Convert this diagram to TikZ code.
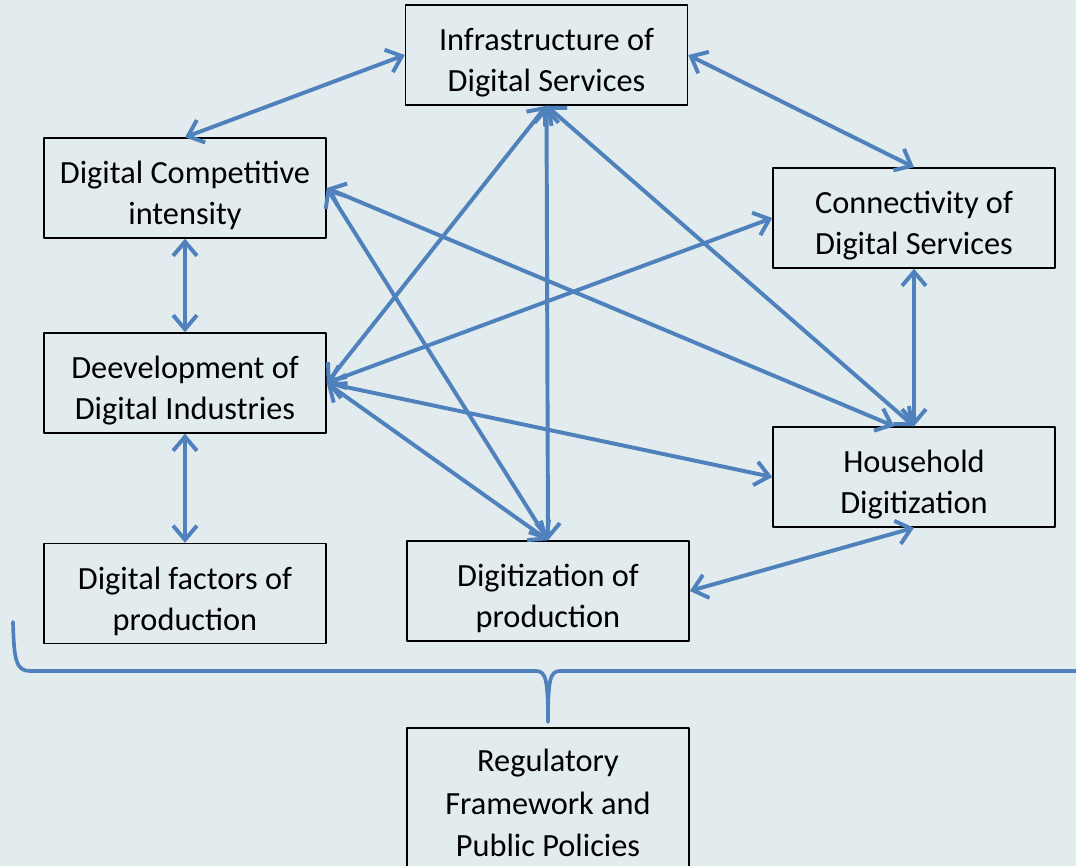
\documentclass[tikz,border=0pt]{standalone}
\usepackage{fontspec}
\setmainfont{Carlito}
\usetikzlibrary{arrows.meta}
\definecolor{bgblue}{RGB}{226,235,238}
\definecolor{linkblue}{RGB}{79,129,189}
\newcommand{\tallstrut}{\rule{0pt}{27pt}}
\tikzset{
  factorbox/.style={draw=black,line width=1pt,fill=bgblue,minimum width=7.05cm,minimum height=2.5cm,align=center,inner sep=0pt},
  link/.style={draw=linkblue,line width=2.8pt,{Straight Barb[length=10pt,width=17pt]}-{Straight Barb[length=10pt,width=17pt]}},
}
\begin{document}
\begin{tikzpicture}[x=0.025cm,y=-0.025cm,line join=round,line cap=round,font=\fontsize{23}{29}\selectfont]
	\path[use as bounding box,clip] (0,0) rectangle (1076,866);
	\fill[bgblue] (0,0) rectangle (1076,866);
	% boxes
	\node[factorbox] (infra) at (546.5,55) {\tallstrut Infrastructure of\\Digital Services};
	\node[factorbox] (compet) at (185,188) {\tallstrut Digital Competitive\\intensity};
	\node[factorbox] (connect) at (914,218) {\tallstrut Connectivity of\\Digital Services};
	\node[factorbox] (devel) at (185,383) {\tallstrut Deevelopment of\\Digital Industries};
	\node[factorbox] (house) at (914,477) {\tallstrut Household\\Digitization};
	\node[factorbox] (factors) at (185,593.5) {\tallstrut Digital factors of\\production};
	\node[factorbox] (digiprod) at (548,591) {\tallstrut Digitization of\\production};
	\node[factorbox,minimum height=3.75cm,font=\fontsize{23}{30}\selectfont] (regul) at (548,803) {Regulatory\\Framework and\\Public Policies};
	% links
	\draw[link] (infra.west) -- (compet.north);
	\draw[link] (infra.east) -- (connect.north);
	\draw[link] (compet.south) -- (devel.north);
	\draw[link] (devel.south) -- (factors.north);
	\draw[link] (connect.south) -- (house.north);
	\draw[link] (house.south) -- (digiprod.east);
	\draw[link] (infra.south) -- (devel.east);
	\draw[link] (infra.south) -- (digiprod.north);
	\draw[link] (infra.south) -- (house.north);
	\draw[link] (compet.east) -- ([xshift=-14pt]house.north);
	\draw[link] (compet.east) -- (digiprod.north);
	\draw[link] (connect.west) -- (devel.east);
	\draw[link] (devel.east) -- (house.west);
	\draw[link] (devel.east) -- (digiprod.north);
	% brace
	\draw[linkblue,line width=2.6pt] (13,622) .. controls (14,660) and (16,671) .. (30,671) -- (536,671)
		.. controls (546,671) and (548,680) .. (548,722)
		.. controls (548,680) and (550,671) .. (560,671) -- (1080,671);
\end{tikzpicture}
\end{document}
